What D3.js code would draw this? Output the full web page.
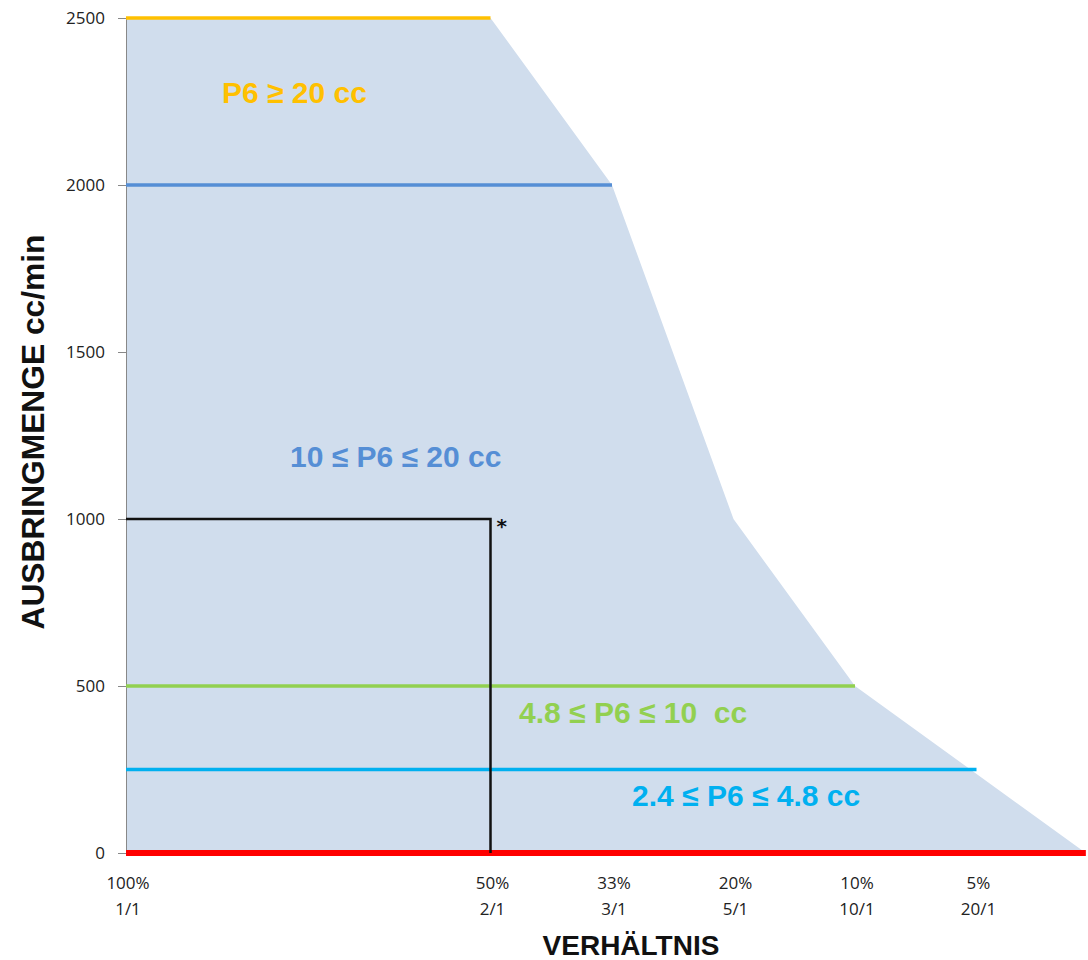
<!DOCTYPE html>
<html>
<head>
<meta charset="utf-8">
<script src="https://cdn.jsdelivr.net/npm/d3@7"></script>
<style>
  body { margin: 0; background: #fff; }
  svg { display: block; }
</style>
</head>
<body>
<script>
// x positions are steps along the ratio axis, 0 = 1/1
var tick_pos = [0, 3, 4, 5, 6, 7];
var tick_pct = ["100%", "50%", "33%", "20%", "10%", "5%"];
var tick_ratio = ["1/1", "2/1", "3/1", "5/1", "10/1", "20/1"];
var y_ticks = [0, 500, 1000, 1500, 2000, 2500];

// outline of the shaded working range
var area_x = [0, 3, 4, 5, 6, 7.9];
var area_y = [2500, 2500, 2000, 1000, 500, 0];

// horizontal limit lines: value and where they end
var limit_vals = [2500, 2000, 500, 250, 0];
var limit_ends = [3, 4, 6, 7, 7.9];
var limit_cols = ["#ffc000", "#558ed5", "#92d050", "#00b0f0", "#ff0000"];

var range_labels = ["P6 \u2265 20 cc", "10 \u2264 P6 \u2264 20 cc", "4.8 \u2264 P6 \u2264 10\u00a0 cc", "2.4 \u2264 P6 \u2264 4.8 cc"];
var label_x = [0.79, 1.35, 3.235, 4.165];
var label_y = [2245, 1156, 389, 141];
var label_cols = ["#ffc000", "#558ed5", "#92d050", "#00b0f0"];

// example point marked with *
var mark_x = [0, 3, 3];
var mark_y = [1000, 1000, 0];

var W = 1088, H = 960;
var svg = d3.select("body").append("svg").attr("width", W).attr("height", H);

var x = d3.scaleLinear().domain([0, 7]).range([126, 976.5]);
var y = d3.scaleLinear().domain([0, 2500]).range([853, 18]);

var line = d3.line().x(function(d) { return x(d[0]); }).y(function(d) { return y(d[1]); });

// shaded area
var pts = area_x.map(function(d, i) { return [d, area_y[i]]; });
pts.push([0, 0]);
svg.append("path").attr("d", line(pts) + "Z").style("fill", "#d0dded");

// y axis
var yAxis = d3.axisLeft(y).tickValues(y_ticks).tickSize(8).tickPadding(13).tickFormat(d3.format("d"));
var ga = svg.append("g").attr("transform", "translate(" + x(0) + ",0)").call(yAxis);
ga.select(".domain").attr("stroke", "#888");
ga.selectAll(".tick line").attr("stroke", "#888");
ga.selectAll("text").style("font-family", "Open Sans, sans-serif").style("font-size", "17px").attr("fill", "#222");

// limit lines
limit_vals.forEach(function(v, i) {
  svg.append("line")
    .attr("x1", x(0)).attr("x2", x(limit_ends[i]))
    .attr("y1", y(v)).attr("y2", y(v))
    .attr("stroke", limit_cols[i])
    .attr("stroke-width", v === 0 ? 6 : 3.5);
});

// black example lines
svg.append("path")
  .attr("d", line(mark_x.map(function(d, i) { return [d, mark_y[i]]; })))
  .attr("fill", "none").attr("stroke", "#111").attr("stroke-width", 2.5);
svg.append("text").attr("x", x(3) + 6).attr("y", y(1000) + 14)
  .text("*").style("font-family", "DejaVu Sans, sans-serif").style("font-size", "20px").style("font-weight", "bold").attr("fill", "#111");

// range labels
range_labels.forEach(function(t, i) {
  svg.append("text").attr("x", x(label_x[i])).attr("y", y(label_y[i]))
    .text(t)
    .style("font-family", "Liberation Sans, Arial, sans-serif")
    .style("font-size", "30px").style("font-weight", "bold")
    .attr("fill", label_cols[i]);
});

// x tick labels
tick_pos.forEach(function(p, i) {
  var t = svg.append("text").attr("text-anchor", "middle")
    .style("font-family", "Open Sans, sans-serif").style("font-size", "17px").attr("fill", "#222");
  t.append("tspan").attr("x", x(p) + 2).attr("y", 889).text(tick_pct[i]);
  t.append("tspan").attr("x", x(p) + 2).attr("y", 915).text(tick_ratio[i]);
});

// axis titles
svg.append("text").attr("x", 631).attr("y", 955).attr("text-anchor", "middle")
  .text("VERHÄLTNIS")
  .style("font-family", "Liberation Sans, Arial, sans-serif").style("font-size", "28px").style("font-weight", "bold").attr("fill", "#111");
svg.append("text").attr("transform", "translate(44,432) rotate(-90)").attr("text-anchor", "middle")
  .attr("textLength", 395).attr("lengthAdjust", "spacingAndGlyphs")
  .text("AUSBRINGMENGE cc/min")
  .style("font-family", "Liberation Sans, Arial, sans-serif").style("font-size", "32px").style("font-weight", "bold").attr("fill", "#111");
</script>
</body>
</html>
